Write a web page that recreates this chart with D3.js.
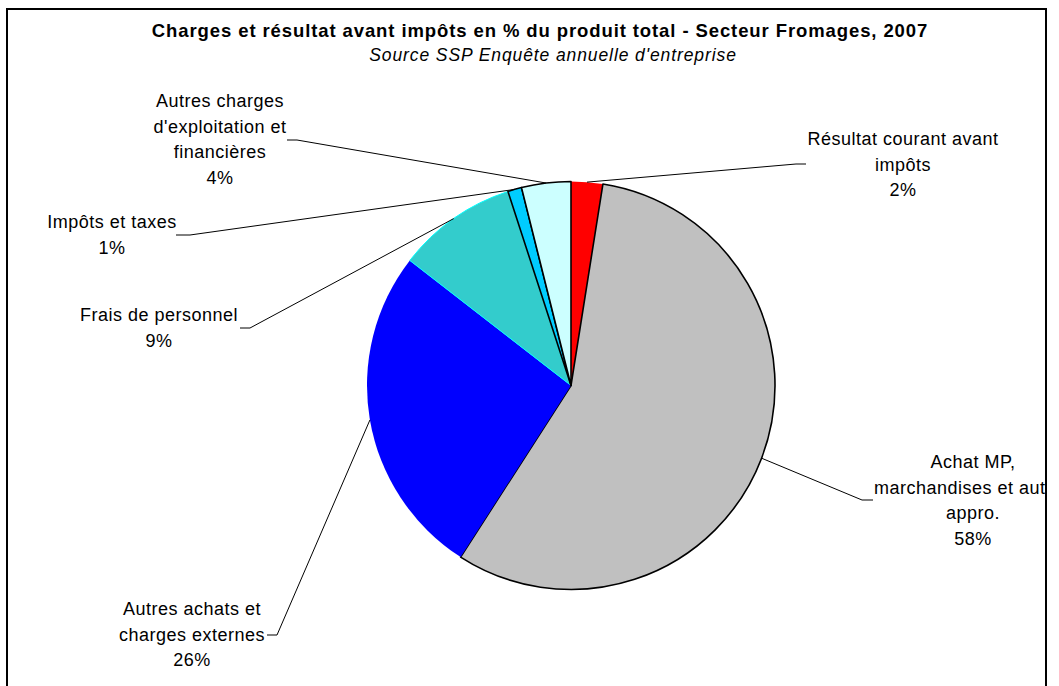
<!DOCTYPE html>
<html>
<head>
<meta charset="utf-8">
<script src="https://cdn.jsdelivr.net/npm/d3@7"></script>
<style>
  body { margin: 0; background: #fff; }
  text { font-family: Arial, "Liberation Sans", sans-serif; fill: #000; }
</style>
</head>
<body>
<div id="chart"></div>
<script>
// Data (share of total product, %)
var categories = ["Résultat courant avant impôts", "Achat MP, marchandises et autres appro.",
                  "Autres achats et charges externes", "Frais de personnel",
                  "Impôts et taxes", "Autres charges d'exploitation et financières"];
var values = [2.5, 56.6, 26.4, 9.5, 1.1, 3.9];
var pctLabels = ["2%", "58%", "26%", "9%", "1%", "4%"];
// label text as broken on the chart
var labelLines = [
  ["Résultat courant avant", "impôts"],
  ["Achat MP,", "marchandises et autres", "appro."],
  ["Autres achats et", "charges externes"],
  ["Frais de personnel"],
  ["Impôts et taxes"],
  ["Autres charges", "d'exploitation et", "financières"]
];
var colors = ["#FF0000", "#C0C0C0", "#0000FF", "#33CCCC", "#00CCFF", "#CCFFFF"];
var strokes = ["none", "#000", "none", "#00FFFF", "#000", "#000"];

var W = 1059, H = 686;
var cx = 571, cy = 385.5, R = 204;
var lineH = 25.6;

// label boxes: centre x, first baseline, where the leader meets it, and the elbow
var labelPos = [
  {x: 903, y: 145, ax: 806, ay: 164, ex: 796},
  {x: 973, y: 468, ax: 873, ay: 500, ex: 862},
  {x: 192, y: 615, ax: 267, ay: 635, ex: 277},
  {x: 159, y: 321, ax: 240, ay: 328, ex: 250},
  {x: 112, y: 228, ax: 176, ay: 235, ex: 190},
  {x: 220, y: 107, ax: 287, ay: 140, ex: 297}
];

var svg = d3.select("#chart").append("svg")
            .attr("width", W).attr("height", H);

// the frame cuts the text that runs past it, as in the original
svg.append("defs").append("clipPath").attr("id", "frame")
   .append("rect").attr("x", 8).attr("y", 10).attr("width", 1038).attr("height", 700);

var g = svg.append("g").attr("clip-path", "url(#frame)");

// Title
g.append("text")
 .attr("x", 540).attr("y", 37)
 .attr("text-anchor", "middle")
 .style("font-size", "18.5px").style("font-weight", "bold")
 .style("letter-spacing", "0.9px")
 .text("Charges et résultat avant impôts en % du produit total - Secteur Fromages, 2007");

g.append("text")
 .attr("x", 553).attr("y", 61)
 .attr("text-anchor", "middle")
 .style("font-size", "17.5px").style("font-style", "italic")
 .style("letter-spacing", "0.9px")
 .text("Source SSP Enquête annuelle d'entreprise");

// Pie, clockwise from 12 o'clock
var pie = d3.pie().sort(null).value(function(d) { return d; });
var arcs = pie(values);
var arc = d3.arc().innerRadius(0).outerRadius(R);
var edge = d3.arc().innerRadius(R).outerRadius(R);

var pieG = g.append("g").attr("transform", "translate(" + cx + "," + cy + ")");

pieG.selectAll("path")
    .data(arcs)
    .enter().append("path")
    .attr("d", arc)
    .attr("fill", function(d, i) { return colors[i]; })
    .attr("stroke", function(d, i) { return strokes[i]; })
    .attr("stroke-width", function(d, i) { return strokes[i] == "#000" ? 1.6 : 1; })
    .attr("stroke-linejoin", "round");

// Leader lines
g.selectAll("polyline.leader")
 .data(arcs)
 .enter().append("polyline")
 .attr("class", "leader")
 .attr("fill", "none").attr("stroke", "#000").attr("stroke-width", 1)
 .attr("points", function(d, i) {
    var c = edge.centroid(d), p = labelPos[i];
    return [[cx + c[0], cy + c[1]], [p.ex, p.ay], [p.ax, p.ay]].join(" ");
 });

// Labels
var lab = g.selectAll("text.lab")
 .data(arcs)
 .enter().append("text")
 .attr("class", "lab")
 .attr("text-anchor", "middle")
 .style("font-size", "18px")
 .style("letter-spacing", "0.5px");

lab.each(function(d, i) {
  var t = d3.select(this);
  var lines = labelLines[i].concat([pctLabels[i]]);
  lines.forEach(function(s, k) {
    t.append("tspan").attr("x", labelPos[i].x).attr("y", labelPos[i].y + k * lineH).text(s);
  });
});

// Frame
svg.append("rect")
   .attr("x", 7).attr("y", 9).attr("width", 1039).attr("height", 690)
   .attr("fill", "none").attr("stroke", "#000").attr("stroke-width", 2);
</script>
</body>
</html>
